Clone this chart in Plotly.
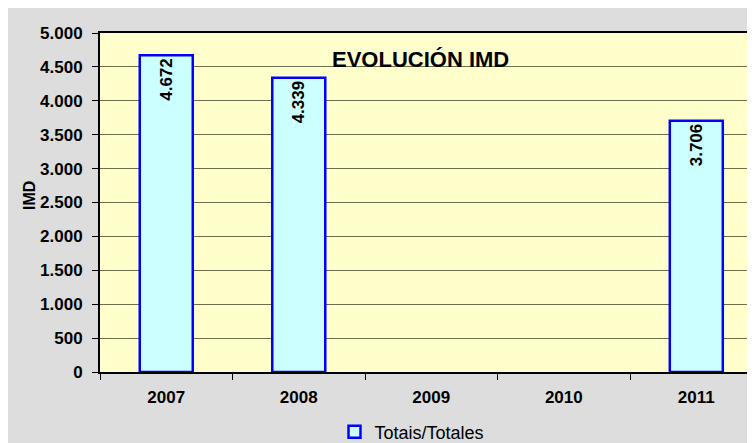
import plotly.graph_objects as go

years = ["2007", "2008", "2009", "2010", "2011"]
totals = [4672, 4339, None, None, 3706]
y_ticks = list(range(0, 5001, 500))
y_tick_labels = [f"{v:,}".replace(",", ".") for v in y_ticks]

W, H = 747, 435
L, R, T, B = 92, 0, 25, 71
PW, PH = W - L - R, H - T - B

FONT = "Liberation Sans, Arial"

fig = go.Figure()
fig.add_trace(go.Bar(
    x=years, y=totals, name="Totais/Totales",
    width=0.4,
    marker=dict(color="#ccffff", line=dict(color="#0000ff", width=2.5)),
    texttemplate="%{y:,.0f}", textposition="inside", insidetextanchor="end",
    textangle=-90,
    textfont=dict(family=FONT, size=17, color="black", weight="bold"),
    showlegend=True,
))

fig.update_layout(
    width=W, height=H,
    margin=dict(l=L, r=R, t=T, b=B, autoexpand=False),
    paper_bgcolor="#dddddd",
    plot_bgcolor="#ffffcc",
    separators=",.",
    font=dict(family=FONT, size=17, color="black"),
    showlegend=True,
    legend=dict(orientation="h", x=(412 - 8 - L) / PW, xanchor="center",
                y=-(424 - 364) / PH, yanchor="middle",
                itemwidth=30,
                font=dict(size=18), bgcolor="rgba(0,0,0,0)"),
    annotations=[
        dict(text="<b>EVOLUCIÓN IMD</b>", xref="paper", yref="paper",
             x=0.49, y=0.923, xanchor="center", yanchor="middle",
             showarrow=False, font=dict(size=22)),
        dict(text="<b>IMD</b>", xref="paper", yref="paper", textangle=-90,
             x=(21 - L) / PW, y=1 - (188 - T) / PH, xanchor="center", yanchor="middle",
             showarrow=False, font=dict(size=16)),
    ],
)

fig.update_xaxes(
    type="category", range=[-0.5, 4.443],
    showline=True, linecolor="black", linewidth=2, mirror=True,
    ticks="outside", tickson="boundaries", ticklen=6, tickcolor="black",
    tickfont=dict(size=17, weight="bold"), ticklabelstandoff=9, showgrid=False,
)
fig.update_yaxes(
    range=[0, 5000], tickvals=y_ticks, ticktext=y_tick_labels,
    showline=True, linecolor="black", linewidth=2, mirror=True,
    ticks="outside", ticklen=6, tickcolor="black",
    tickfont=dict(size=17, weight="bold"), ticklabelstandoff=6,
    showgrid=True, gridcolor="#6f6f50", gridwidth=1,
    zeroline=False,
)

fig.write_html("out.html")
